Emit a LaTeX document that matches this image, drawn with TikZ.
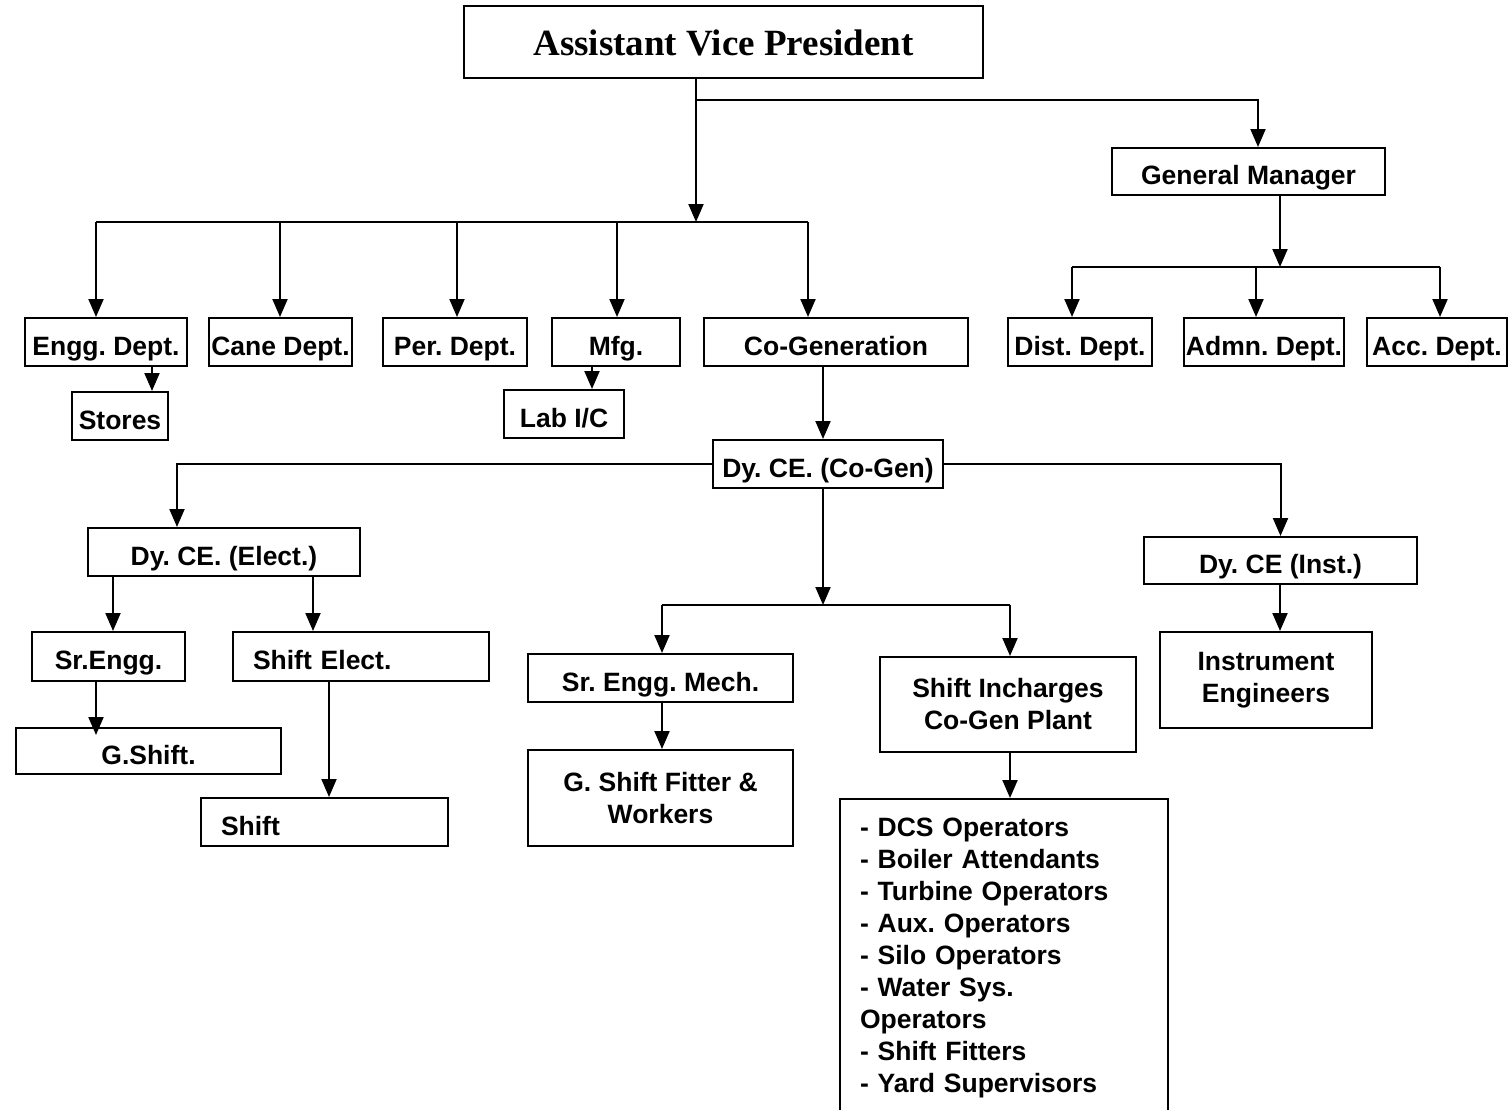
\documentclass[tikz,border=0pt]{standalone}
\usepackage{fontspec}
\setmainfont{Liberation Sans}
\newfontfamily\avpfont{Liberation Serif}
\usetikzlibrary{arrows.meta}
\frenchspacing
\begin{document}
\begin{tikzpicture}[x=0.5pt,y=-0.5pt,
  box/.style={draw, line width=1pt, inner sep=0pt, align=center,
    font=\frenchspacing\bfseries\fontsize{13.25}{16}\selectfont},
  one/.style={box, text height=13pt, text depth=0pt},
  conn/.style={line width=1pt},
  arr/.style={conn, -{Triangle[length=9pt,width=7.5pt]}}]
\useasboundingbox (0,0) rectangle (1508,1109);
\clip (0,0) rectangle (1508,1109);
\fill[white] (0,0) rectangle (1508,1109);

% ---------- nodes ----------
\node[one, minimum width=259.5pt, minimum height=36pt,
      font=\avpfont\bfseries\fontsize{18.5}{22}\selectfont] (avp) at (723.5,42) {Assistant Vice President};
\node[one, minimum width=136.5pt, minimum height=23.5pt] (gm) at (1248.5,171.5) {General Manager};

\node[one, minimum width=81pt,   minimum height=24pt] (engg)  at (106,342)   {Engg. Dept.};
\node[one, minimum width=71.5pt, minimum height=24pt] (cane)  at (280.5,342) {Cane Dept.};
\node[one, minimum width=72pt,   minimum height=24pt] (per)   at (455,342)   {Per. Dept.};
\node[one, minimum width=64pt,   minimum height=24pt] (mfg)   at (616,342)   {Mfg.};
\node[one, minimum width=132pt,  minimum height=24pt] (cogen) at (836,342)   {Co-Generation};
\node[one, minimum width=72pt,   minimum height=24pt] (dist)  at (1080,342)  {Dist. Dept.};
\node[one, minimum width=80pt,   minimum height=24pt] (admn)  at (1264,342)  {Admn. Dept.};
\node[one, minimum width=70pt,   minimum height=24pt] (acc)   at (1437,342)  {Acc. Dept.};

\node[one, minimum width=48pt, minimum height=24pt] (stores) at (120,416) {Stores};
\node[one, minimum width=60pt, minimum height=24pt] (lab)    at (564,414) {Lab I/C};

\node[one, minimum width=115pt, minimum height=24pt] (dycg) at (828,464) {Dy. CE. (Co-Gen)};

\node[one, minimum width=136pt, minimum height=24pt] (dyel) at (224,552) {Dy. CE. (Elect.)};
\node[one, minimum width=76.5pt, minimum height=24.5pt] (sreng) at (108.5,656.5) {Sr.Engg.};
\node[one, align=left, text width=108pt, inner xsep=10pt, minimum height=24.5pt] (shel) at (361,656.5) {Shift Elect.};
\node[one, minimum width=132.5pt, minimum height=23pt] (gsh) at (148.5,751) {G.Shift.};
\node[one, align=left, text width=103.5pt, inner xsep=10pt, minimum height=24pt] (shift) at (324.5,822) {Shift};

\node[one, minimum width=132.5pt, minimum height=24pt] (srmech) at (660.5,678) {Sr. Engg. Mech.};
\node[box, minimum width=132.5pt, minimum height=48pt] (gfit) at (660.5,798) {G. Shift Fitter \&\\Workers};
\node[box, minimum width=128pt, minimum height=47.5pt] (shinc) at (1008,704.5) {Shift Incharges\\Co-Gen Plant};
\node[box, anchor=north, align=left, text width=144pt, inner xsep=10pt, inner ysep=9.5pt] (list) at (1004,798)
  {- DCS Operators\\- Boiler Attendants\\- Turbine Operators\\- Aux. Operators\\- Silo Operators\\- Water Sys.\\Operators\\- Shift Fitters\\- Yard Supervisors};

\node[one, minimum width=136.5pt, minimum height=23.5pt] (dyin) at (1280.5,560.5) {Dy. CE (Inst.)};
\node[box, minimum width=106pt, minimum height=48pt] (inst) at (1266,680) {Instrument\\Engineers};

% ---------- junction coordinates ----------
\coordinate (jA) at (696,222);
\coordinate (jB) at (696,100);
\coordinate (jGM) at (1258,100);
\coordinate (d1) at (96,222);
\coordinate (d2) at (280,222);
\coordinate (d3) at (457,222);
\coordinate (d4) at (617,222);
\coordinate (d5) at (808,222);
\coordinate (g0) at (1280,267);
\coordinate (e1) at (1072,267);
\coordinate (e2) at (1256,267);
\coordinate (e3) at (1440,267);
\coordinate (s1) at (152,380);
\coordinate (s2) at (592,380);
\coordinate (s3) at (823,400);
\coordinate (h1) at (177,464);
\coordinate (m0) at (823,605);
\coordinate (m1) at (662,605);
\coordinate (m2) at (1010,605);
\coordinate (p1) at (113,600);
\coordinate (p2) at (313,600);
\coordinate (p3) at (96,700);
\coordinate (p4) at (329,700);
\coordinate (p5) at (662,720);
\coordinate (p6) at (1010,770);
\coordinate (p7) at (1280,600);

% ---------- connectors ----------
\draw[arr] (avp.south -| jA) -- (jA);
\draw[arr] (jB) -| (gm.north -| jGM);
\draw[conn] (d1) -- (d5);
\draw[arr] (d1) -- (d1 |- engg.north);
\draw[arr] (d2) -- (d2 |- cane.north);
\draw[arr] (d3) -- (d3 |- per.north);
\draw[arr] (d4) -- (d4 |- mfg.north);
\draw[arr] (d5) -- (d5 |- cogen.north);

\draw[arr] (gm.south -| g0) -- (g0);
\draw[conn] (e1) -- (e3);
\draw[arr] (e1) -- (e1 |- dist.north);
\draw[arr] (e2) -- (e2 |- admn.north);
\draw[arr] (e3) -- (e3 |- acc.north);

\draw[arr] (engg.south -| s1) -- (stores.north -| s1);
\draw[arr] (mfg.south -| s2) -- (lab.north -| s2);
\draw[arr] (cogen.south -| s3) -- (dycg.north -| s3);

\draw[arr] (dycg.west) -| (dyel.north -| h1);
\draw[arr] (dycg.east) -| (dyin.north);
\draw[arr] (dycg.south -| m0) -- (m0);
\draw[conn] (m1) -- (m2);
\draw[arr] (m1) -- (m1 |- srmech.north);
\draw[arr] (m2) -- (m2 |- shinc.north);

\draw[arr] (dyel.south -| p1) -- (sreng.north -| p1);
\draw[arr] (dyel.south -| p2) -- (shel.north -| p2);
\draw[arr, shorten >=-4pt] (sreng.south -| p3) -- (gsh.north -| p3);
\draw[arr] (shel.south -| p4) -- (shift.north -| p4);
\draw[arr] (srmech.south -| p5) -- (gfit.north -| p5);
\draw[arr] (shinc.south -| p6) -- (list.north -| p6);
\draw[arr] (dyin.south -| p7) -- (inst.north -| p7);
\end{tikzpicture}
\end{document}
